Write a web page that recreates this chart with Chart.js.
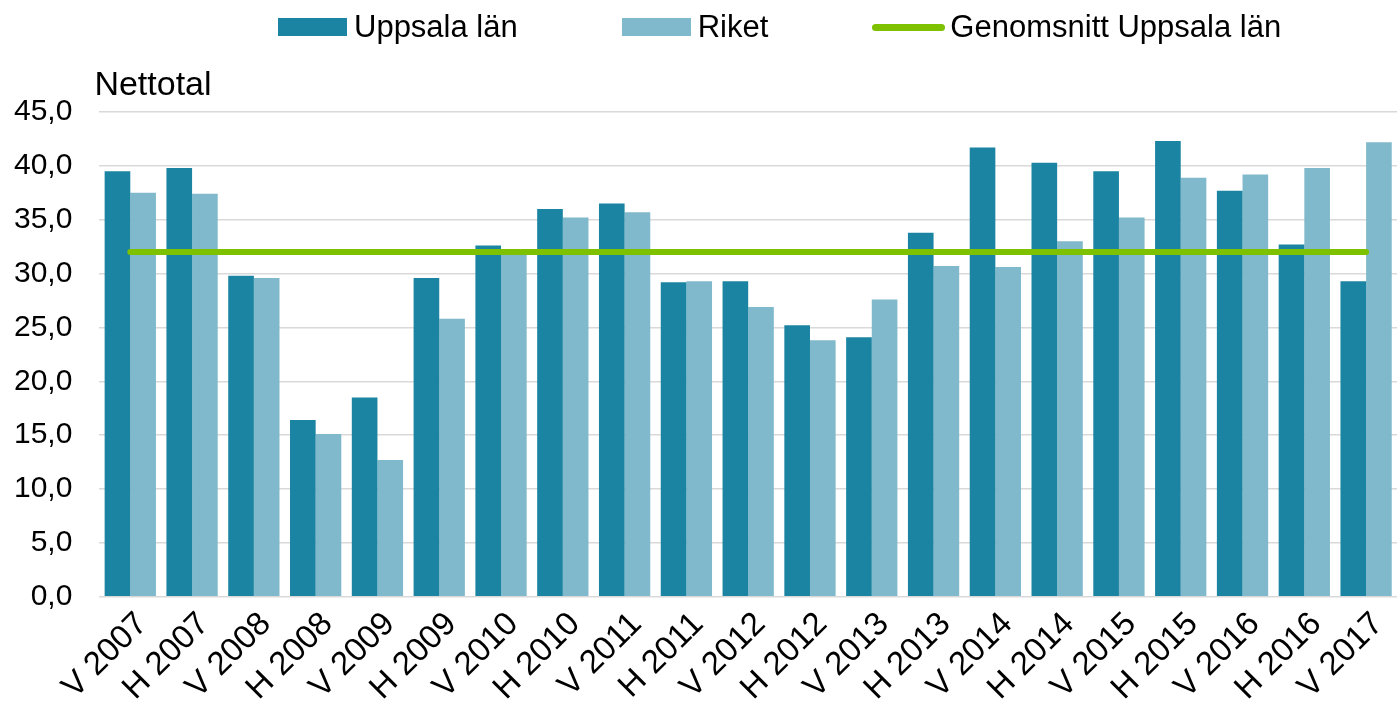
<!DOCTYPE html>
<html>
<head>
<meta charset="utf-8">
<script src="https://cdn.jsdelivr.net/npm/chart.js@4/dist/chart.umd.min.js"></script>
<style>
  html, body { margin: 0; padding: 0; background: #fff; }
  #wrap { position: relative; width: 1397px; height: 708px; }
  #legend { position: absolute; top: 9px; left: 278px; display: flex; align-items: center;
            font-family: "Liberation Sans", Arial, sans-serif; font-size: 31px; color: #000; white-space: nowrap; }
  #legend .item { display: flex; align-items: center; margin-right: 104px; }
  #legend .swatch { width: 69px; height: 18px; margin-right: 7px; }
  #legend .line { width: 73px; height: 7px; border-radius: 4px; margin-right: 5px; }
</style>
</head>
<body>
<div id="wrap">
  <canvas id="chart" width="1397" height="708"></canvas>
  <div id="legend"></div>
</div>
<script>
// --- DATA ---
const categories = ['V 2007', 'H 2007', 'V 2008', 'H 2008', 'V 2009', 'H 2009', 'V 2010', 'H 2010',
    'V 2011', 'H 2011', 'V 2012', 'H 2012', 'V 2013', 'H 2013', 'V 2014', 'H 2014', 'V 2015',
    'H 2015', 'V 2016', 'H 2016', 'V 2017'];
const uppsala = [39.5, 39.8, 29.8, 16.4, 18.5, 29.6, 32.6, 36.0, 36.5, 29.2, 29.3, 25.2, 24.1,
    33.8, 41.7, 40.3, 39.5, 42.3, 37.7, 32.7, 29.3];
const riket = [37.5, 37.4, 29.6, 15.1, 12.7, 25.8, 31.9, 35.2, 35.7, 29.3, 26.9, 23.8, 27.6,
    30.7, 30.6, 33.0, 35.2, 38.9, 39.2, 39.8, 42.2];
const genomsnitt = [32.0, 32.0, 32.0, 32.0, 32.0, 32.0, 32.0, 32.0, 32.0, 32.0, 32.0, 32.0, 32.0,
    32.0, 32.0, 32.0, 32.0, 32.0, 32.0, 32.0, 32.0];
const yTicks = [0, 5, 10, 15, 20, 25, 30, 35, 40, 45];
const yTitle = 'Nettotal';

const FONT = "'Liberation Sans', Arial, sans-serif";
const COL_UPPSALA = '#1b84a2';
const COL_RIKET = '#80b9cb';
const COL_AVG = '#7dc100';
const Y_TICK_PAD = 27;

const datasets = [
    { type: 'bar', label: 'Uppsala län', data: uppsala, backgroundColor: COL_UPPSALA, order: 1 },
    { type: 'bar', label: 'Riket', data: riket, backgroundColor: COL_RIKET, order: 1 },
    { type: 'line', label: 'Genomsnitt Uppsala län', data: genomsnitt, borderColor: COL_AVG,
      borderWidth: 6, borderCapStyle: 'round', pointRadius: 0, fill: false, order: 0 }
];

// y axis title drawn above the axis, like the original
const yTitlePlugin = {
    id: 'yTitle',
    afterDraw(chart) {
        const { ctx, chartArea } = chart;
        ctx.save();
        ctx.font = `34px ${FONT}`;
        ctx.fillStyle = '#000';
        ctx.textAlign = 'left';
        ctx.textBaseline = 'alphabetic';
        ctx.fillText(yTitle, chartArea.left - 5, chartArea.top - 17);
        ctx.restore();
    }
};

new Chart(document.getElementById('chart'), {
    data: { labels: categories, datasets },
    options: {
        responsive: false,
        animation: false,
        layout: { padding: { top: 112, left: 14, right: 0, bottom: 0 } },
        datasets: { bar: { categoryPercentage: 0.83, barPercentage: 1.0 } },
        plugins: { legend: { display: false }, tooltip: { enabled: false } },
        scales: {
            x: {
                grid: { display: false },
                border: { display: false },
                afterFit: (axis) => { axis.paddingLeft = 0; axis.paddingRight = 0; },
                ticks: {
                    autoSkip: false, maxRotation: 45, minRotation: 45, padding: 0, labelOffset: 12,
                    color: '#000', font: { family: FONT, size: 33 }
                }
            },
            y: {
                min: 0, max: 45,
                afterBuildTicks: (axis) => { axis.ticks = yTicks.map(v => ({ value: v })); },
                // chart.js counts the tick padding twice; keep only the gap next to the plot
                afterFit: (axis) => { axis.width -= Y_TICK_PAD; axis.paddingTop = 0; axis.paddingBottom = 0; },
                grid: { color: '#d9d9d9', lineWidth: 1.5, drawTicks: false },
                border: { display: false },
                ticks: {
                    padding: Y_TICK_PAD, color: '#000', font: { family: FONT, size: 30 },
                    callback: (v) => v.toFixed(1).replace('.', ',')
                }
            }
        }
    },
    plugins: [yTitlePlugin]
});

// --- LEGEND ---
const legend = document.getElementById('legend');
datasets.forEach(ds => {
    const item = document.createElement('div');
    item.className = 'item';
    const mark = document.createElement('span');
    if (ds.type === 'line') {
        mark.className = 'line';
        mark.style.background = ds.borderColor;
    } else {
        mark.className = 'swatch';
        mark.style.background = ds.backgroundColor;
    }
    const text = document.createElement('span');
    text.textContent = ds.label;
    item.appendChild(mark);
    item.appendChild(text);
    legend.appendChild(item);
});
</script>
</body>
</html>
